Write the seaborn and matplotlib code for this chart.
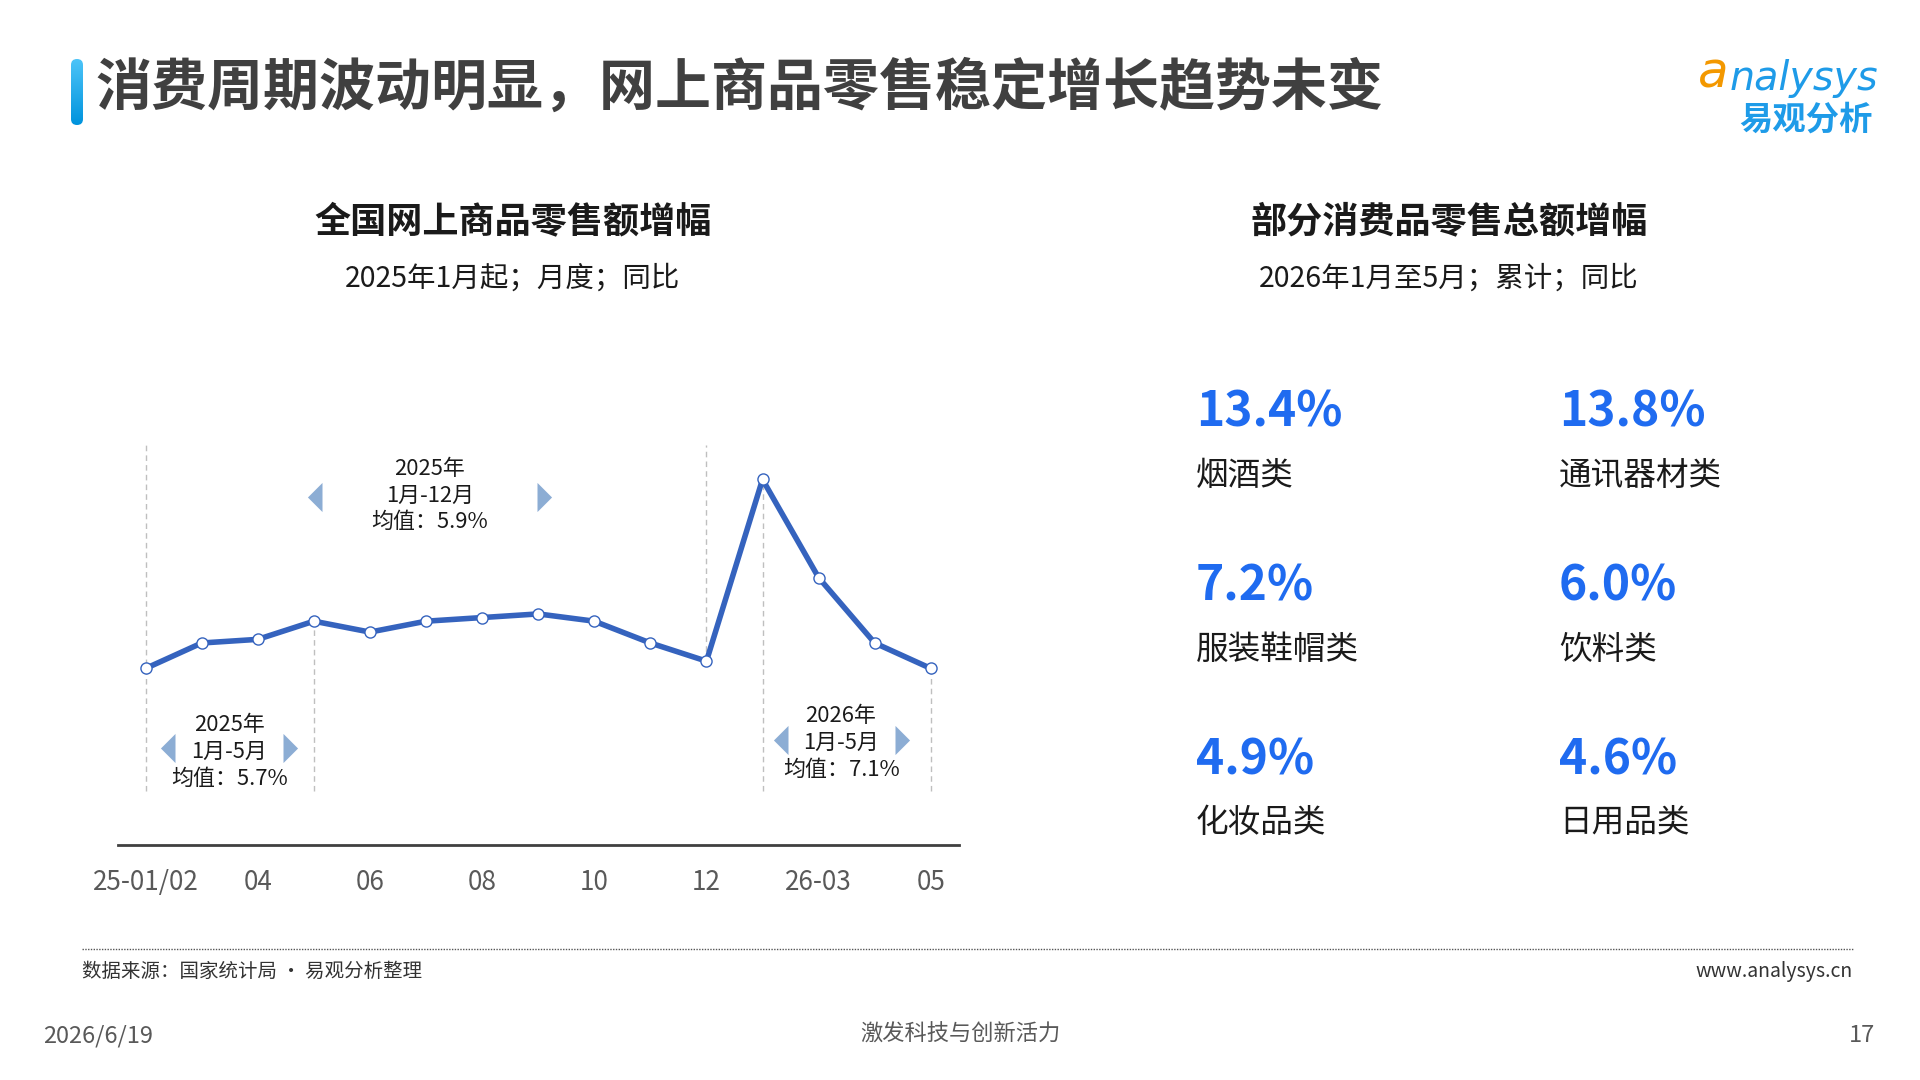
import matplotlib
matplotlib.use("Agg")
import matplotlib.pyplot as plt
import numpy as np
import pandas as pd
import seaborn as sns
from matplotlib.patches import FancyBboxPatch
from matplotlib.path import Path

# data
months = ['25-01/02', '25-03', '25-04', '25-05', '25-06', '25-07', '25-08', '25-09',
          '25-10', '25-11', '25-12', '26-01/02', '26-03', '26-04', '26-05']
growth = [5.0, 5.7, 5.8, 6.3, 6.0, 6.3, 6.4, 6.5, 6.3, 5.7, 5.2, 10.2, 7.5, 5.7, 5.0]
tick_labels = ['25-01/02', '04', '06', '08', '10', '12', '26-03', '05']
tick_idx = [0, 2, 4, 6, 8, 10, 12, 14]

kpi_values = ['13.4%', '13.8%', '7.2%', '6.0%', '4.9%', '4.6%']
kpi_names = ['烟酒类', '通讯器材类', '服装鞋帽类', '饮料类', '化妆品类', '日用品类']

sns.set_theme(style="white")
plt.rcParams['font.family'] = ['Noto Sans CJK SC', 'DejaVu Sans']

W, H = 1920, 1080
fig = plt.figure(figsize=(19.2, 10.8), dpi=100)
fig.patch.set_facecolor('white')


def fx(x):
    return x / W


def fy(y):
    return 1 - y / H


# title bar with gradient
bar_ax = fig.add_axes([fx(71), fy(125), fx(12), (125 - 59) / H])
bar_ax.set_axis_off()
grad = np.linspace(0, 1, 100).reshape(-1, 1)
cmap = matplotlib.colors.LinearSegmentedColormap.from_list('bar', ['#0093DD', '#4CC4F8'])
im = bar_ax.imshow(grad, aspect='auto', cmap=cmap, extent=[0, 1, 0, 1], origin='lower')
clip = FancyBboxPatch((0.0, 0.0), 1, 1, boxstyle="round,pad=0,rounding_size=0.5",
                      transform=bar_ax.transAxes, facecolor='none', edgecolor='none',
                      mutation_aspect=0.18)
bar_ax.add_patch(clip)
im.set_clip_path(clip)

fig.text(fx(95), fy(89), '消费周期波动明显，网上商品零售稳定增长趋势未变', fontsize=40.3,
         fontweight='bold', color='#404040', va='center', ha='left')

# logo
fig.text(fx(1698), fy(74), 'a', fontsize=36, color='#F39800', style='italic',
         va='center', ha='left', family='DejaVu Sans')
fig.text(fx(1730), fy(78), 'nalysys', fontsize=28.5, color='#1E9BE8', style='italic',
         va='center', ha='left', family='DejaVu Sans')
fig.text(fx(1806), fy(120), '易观分析', fontsize=24, color='#1E9BE8', fontweight='bold',
         va='center', ha='center')

# chart titles
fig.text(fx(513), fy(222), '全国网上商品零售额增幅', fontsize=26, fontweight='bold',
         color='#1a1a1a', ha='center', va='center')
fig.text(fx(513), fy(279), '2025年1月起；月度；同比', fontsize=20.5, color='#1a1a1a',
         ha='center', va='center')
fig.text(fx(1449), fy(222), '部分消费品零售总额增幅', fontsize=26, fontweight='bold',
         color='#1a1a1a', ha='center', va='center')
fig.text(fx(1449), fy(279), '2026年1月至5月；累计；同比', fontsize=20.5, color='#1a1a1a',
         ha='center', va='center')

# line chart
off = 0.14
df = pd.DataFrame({'idx': np.arange(len(months)), 'month': months, 'growth': growth})
ax = fig.add_axes([fx(117.6), fy(845), fx(958.8 - 117.6), (845 - 409) / H])
sns.lineplot(data=df, x='idx', y='growth', ax=ax, color='#3563BE', linewidth=4,
             marker='o', markersize=8, markerfacecolor='white', markeredgecolor='#3563BE',
             markeredgewidth=1.0, zorder=3)
ax.set_xlim(-0.5, 14.5)
ax.set_ylim(off, 12 + off)
ax.set_xticks(tick_idx)
ax.set_xticklabels(tick_labels, fontsize=18.8, color='#595959')
ax.tick_params(axis='x', length=0, pad=17)
ax.set_yticks([])
ax.set_xlabel('')
ax.set_ylabel('')
for side in ['top', 'right', 'left']:
    ax.spines[side].set_visible(False)
ax.spines['bottom'].set_color('#404040')
ax.spines['bottom'].set_linewidth(2)

# dashed period separators
dash_kw = dict(color='#BFBFBF', linestyle=(0, (4, 3)), linewidth=1, zorder=1)
lo, hi = 1.5 + off, 11 + off
ax.vlines(0, lo, hi, **dash_kw)
ax.vlines(3, lo, growth[3], **dash_kw)
ax.vlines(10, growth[10], hi, **dash_kw)
ax.vlines(11, lo, growth[11], **dash_kw)
ax.vlines(14, lo, growth[14], **dash_kw)

left_tri = Path([(0, 1), (0, -1), (-1, 0), (0, 1)],
                [Path.MOVETO, Path.LINETO, Path.LINETO, Path.CLOSEPOLY])
right_tri = Path([(0, 1), (0, -1), (1, 0), (0, 1)],
                 [Path.MOVETO, Path.LINETO, Path.LINETO, Path.CLOSEPOLY])
tri_color = '#8CADD4'

annots = [
    (5.07, 9.61, '2025年\n1月-12月\n均值：5.9%', 3.15, 6.97, 9.59),
    (1.49, 2.56, '2025年\n1月-5月\n均值：5.7%', 0.52, 2.45, 2.67),
    (12.4, 2.81, '2026年\n1月-5月\n均值：7.1%', 11.45, 13.36, 2.89),
]
for cx, cy, txt, lx, rx, ty in annots:
    ax.text(cx, cy + off, txt, fontsize=15.8, color='#1a1a1a', ha='center', va='center',
            linespacing=1.27)
    ax.scatter([lx], [ty + off], marker=left_tri, s=440, color=tri_color, linewidths=0, zorder=2)
    ax.scatter([rx], [ty + off], marker=right_tri, s=440, color=tri_color, linewidths=0, zorder=2)

# KPI grid
cols = [1196, 1559]
num_rows = [412, 586, 760]
name_rows = [476, 650, 823]
for i, (val, name) in enumerate(zip(kpi_values, kpi_names)):
    c = cols[i % 2]
    r = i // 2
    fig.text(fx(c), fy(num_rows[r]), val, fontsize=34.5, fontweight='bold', color='#1F6BF0',
             ha='left', va='center')
    fig.text(fx(c), fy(name_rows[r]), name, fontsize=23.5, color='#1a1a1a',
             ha='left', va='center')

# footer
fig.add_artist(plt.Line2D([fx(82), fx(1853)], [fy(949), fy(949)], color='#555555',
                          linestyle=(0, (1, 1)), linewidth=1, transform=fig.transFigure))
fig.text(fx(82), fy(971), '数据来源：国家统计局 • 易观分析整理', fontsize=14, color='#333333',
         ha='left', va='center')
fig.text(fx(1853), fy(971), 'www.analysys.cn', fontsize=14, color='#333333',
         ha='right', va='center')
fig.text(fx(43), fy(1036), '2026/6/19', fontsize=17, color='#595959', ha='left', va='center')
fig.text(fx(960), fy(1034), '激发科技与创新活力', fontsize=16, color='#595959',
         ha='center', va='center')
fig.text(fx(1875), fy(1036), '17', fontsize=17, color='#595959', ha='right', va='center')

fig.savefig('out.png', dpi=100, facecolor='white')
